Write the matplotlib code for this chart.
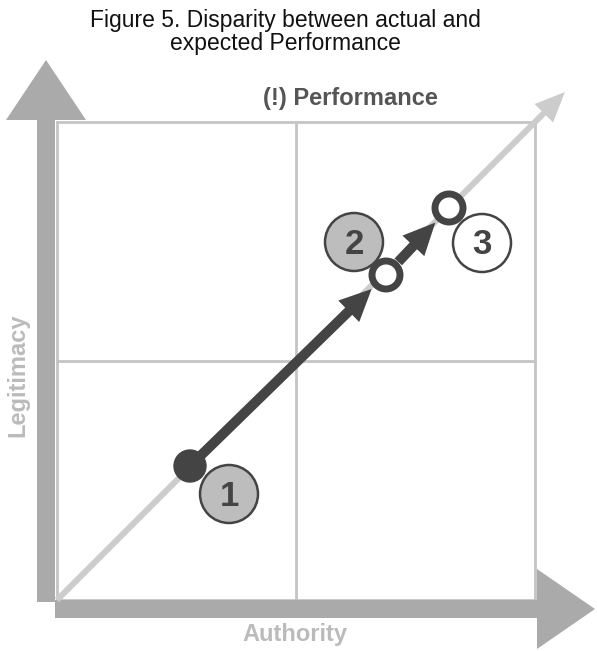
import matplotlib.pyplot as plt
from matplotlib.patches import FancyArrow, Circle

plt.rcParams["font.family"] = ["Liberation Sans", "DejaVu Sans"]

# diagram layout in pixel units
grid_x = [57, 296, 535]
grid_y = [122, 361, 600]
path_x = [190, 386, 449]
path_y = [466, 275, 208]
badge_x = [229, 354, 482]
badge_y = [494, 242, 243]
badge_labels = ["1", "2", "3"]
badge_fill = ["#bdbdbd", "#bdbdbd", "white"]

fig = plt.figure(figsize=(5.97, 6.51), dpi=100)
ax = fig.add_axes([0, 0, 1, 1])
ax.set_xlim(0, 597)
ax.set_ylim(651, 0)
ax.axis("off")

# grid
for x in grid_x:
    ax.plot([x, x], [grid_y[0], grid_y[-1]], color="#c4c4c4", lw=2, zorder=1)
for y in grid_y:
    ax.plot([grid_x[0], grid_x[-1]], [y, y], color="#c4c4c4", lw=2, zorder=1)

# axis arrows
ax.add_patch(FancyArrow(46, 602, 0, -542, width=18, head_width=80, head_length=60,
                        length_includes_head=True, color="#aaaaaa", lw=0, zorder=2))
ax.add_patch(FancyArrow(55, 609, 540, 0, width=18, head_width=80, head_length=58,
                        length_includes_head=True, color="#aaaaaa", lw=0, zorder=2))

# diagonal
ax.add_patch(FancyArrow(57, 600, 508, -508, width=6, head_width=26, head_length=30,
                        length_includes_head=True, color="#cccccc", lw=0, zorder=3))

# movement arrows
for i in range(2):
    x0, y0 = path_x[i], path_y[i]
    x1, y1 = path_x[i + 1], path_y[i + 1]
    dx, dy = x1 - x0, y1 - y0
    d = (dx**2 + dy**2) ** 0.5
    ux, uy = dx / d, dy / d
    start = 0 if i == 0 else 18
    end = 20
    ax.add_patch(FancyArrow(x0 + ux * start, y0 + uy * start,
                            dx - ux * (start + end), dy - uy * (start + end),
                            width=10, head_width=30, head_length=32,
                            length_includes_head=True, color="#444444", lw=0, zorder=4))

ax.add_patch(Circle((path_x[0], path_y[0]), 16, color="#444444", zorder=5))
for x, y in zip(path_x[1:], path_y[1:]):
    ax.add_patch(Circle((x, y), 14, facecolor="white", edgecolor="#444444", lw=5, zorder=5))

for x, y, lab, fc in zip(badge_x, badge_y, badge_labels, badge_fill):
    ax.add_patch(Circle((x, y), 29, facecolor=fc, edgecolor="#444444", lw=1.8, zorder=5))
    ax.text(x, y + 2, lab, ha="center", va="center", fontsize=25, fontweight="bold",
            color="#444444", zorder=6)

ax.text(285, 32, "Figure 5. Disparity between actual and\nexpected Performance",
        ha="center", va="center", fontsize=16.5, color="#111111", linespacing=1.05)
ax.text(350, 98, "(!) Performance", ha="center", va="center", fontsize=17,
        fontweight="bold", color="#555555")
ax.text(295, 635, "Authority", ha="center", va="center", fontsize=17,
        fontweight="bold", color="#bbbbbb")
ax.text(18, 375, "Legitimacy", ha="center", va="center", fontsize=17,
        fontweight="bold", color="#bbbbbb", rotation=90)

fig.savefig("out.png", dpi=100)
